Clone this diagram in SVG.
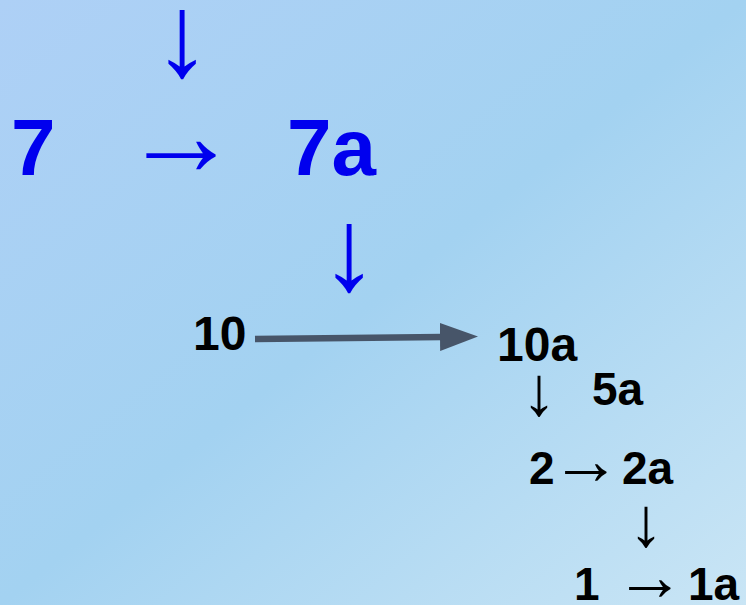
<svg xmlns="http://www.w3.org/2000/svg" width="746" height="605" viewBox="0 0 746 605">
  <defs>
    <linearGradient id="bg" x1="0" y1="0" x2="1" y2="1">
      <stop offset="0" stop-color="#aed0f6"/>
      <stop offset="0.5" stop-color="#a3d2f1"/>
      <stop offset="1" stop-color="#c9e5f5"/>
    </linearGradient>
    <marker id="head" viewBox="0 0 38 28" refX="2" refY="14" markerWidth="38" markerHeight="28" markerUnits="userSpaceOnUse" orient="auto">
      <path d="M0,0 L38,14 L0,28 Z" fill="#475569"/>
    </marker>
    <style>
      .lbl { font-family: "Liberation Sans", Arial, sans-serif; font-weight: bold; }
      .big { font-size: 80px; fill: #0000ee; }
      .mid { font-size: 48px; fill: #000; }
      .sm { font-size: 46px; fill: #000; }
      .arr { font-family: "Liberation Sans", Arial, sans-serif; }
      .arrBlue { font-size: 117px; fill: #0000ee; }
      .arrBlack { font-size: 70px; fill: #000; }
    </style>
  </defs>

  <rect width="746" height="605" fill="url(#bg)"/>

  <g id="n7"><text class="lbl big" x="11" y="175">7</text></g>
  <g id="n7a"><text class="lbl big" x="287" y="175">7a</text></g>
  <g id="n10"><text class="lbl mid" x="193" y="350">10</text></g>
  <g id="n10a"><text class="lbl mid" x="497" y="361">10a</text></g>
  <g id="n5a"><text class="lbl sm" x="592" y="405">5a</text></g>
  <g id="n2"><text class="lbl sm" x="529" y="484">2</text></g>
  <g id="n2a"><text class="lbl sm" x="622" y="484">2a</text></g>
  <g id="n1"><text class="lbl sm" x="574" y="600">1</text></g>
  <g id="n1a"><text class="lbl sm" x="688" y="600">1a</text></g>

  <g id="connectors">
    <text class="arr arrBlue" x="182" y="76" text-anchor="middle">↓</text>
    <text class="arr arrBlue" x="181" y="175" text-anchor="middle">→</text>
    <text class="arr arrBlue" x="349" y="290" text-anchor="middle">↓</text>
    <line x1="255" y1="339" x2="442" y2="337" stroke="#475569" stroke-width="6.5" marker-end="url(#head)"/>
    <text class="arr arrBlack" x="539" y="415" text-anchor="middle">↓</text>
    <text class="arr arrBlack" x="586" y="484" text-anchor="middle">→</text>
    <text class="arr arrBlack" x="646" y="546" text-anchor="middle">↓</text>
    <text class="arr arrBlack" x="650" y="600" text-anchor="middle">→</text>
  </g>
</svg>
